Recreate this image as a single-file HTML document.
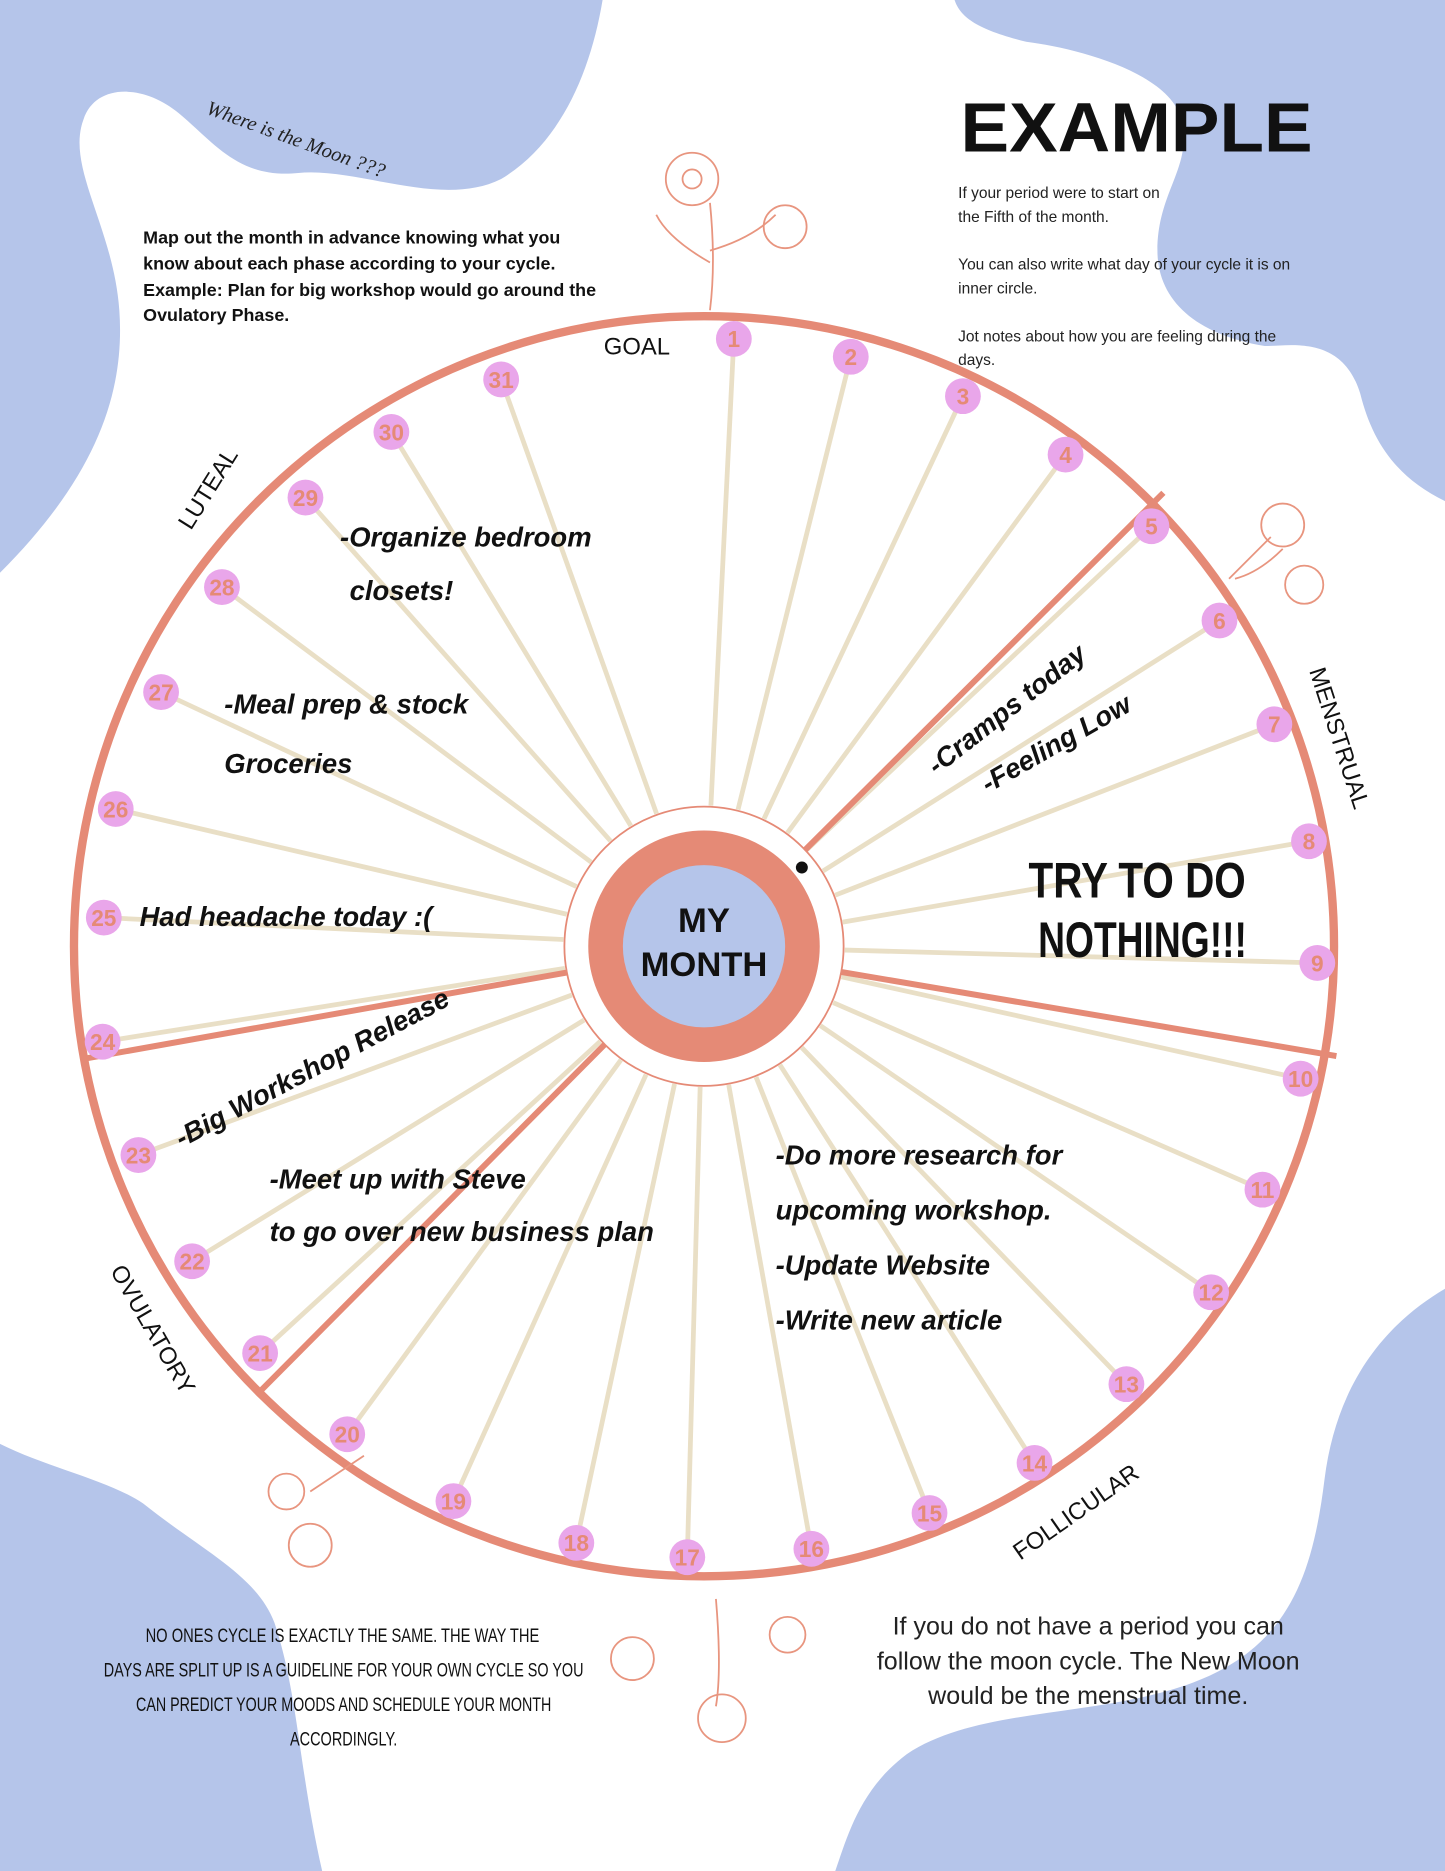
<!DOCTYPE html>
<html><head><meta charset="utf-8"><style>
html,body{margin:0;padding:0;background:#fff}
svg{display:block}
.hw{font-family:"Liberation Sans",sans-serif;font-weight:bold;font-style:italic;fill:#111}
.sans{font-family:"Liberation Sans",sans-serif}
</style></head><body>
<svg id="s" width="1445" height="1871" viewBox="0 0 1211 1568" preserveAspectRatio="none" xmlns="http://www.w3.org/2000/svg">
<rect width="1211" height="1568" fill="#fff"/>
<g fill="#b5c5ea">
<path d="M0 0 H505 C495 60 470 120 420 150 C370 175 300 140 250 145 C200 150 180 120 150 95 C120 70 80 70 70 100 C55 140 95 190 100 260 C105 330 80 400 0 480 Z"/>
<path d="M800 0 H1211 V420 C1170 400 1150 370 1140 330 C1125 280 1080 290 1060 290 C1000 280 970 250 970 210 C970 160 1000 140 990 100 C980 60 900 40 860 35 C820 25 805 15 800 0 Z"/>
<path d="M0 1210 C40 1230 90 1240 120 1260 C170 1300 215 1320 230 1360 C250 1420 250 1480 270 1568 H0 Z"/>
<path d="M1211 1080 C1160 1110 1120 1160 1110 1240 C1100 1320 1080 1380 1000 1410 C920 1440 820 1430 760 1470 C720 1500 710 1540 700 1568 H1211 Z"/>
</g>
<g id="spokes" stroke="#e9dfc6" stroke-width="4"></g>
<circle cx="590" cy="793" r="528" fill="none" stroke="#e58a76" stroke-width="7"/>
<g stroke="#e58a76" stroke-width="5">
<line x1="665" y1="722" x2="975" y2="413"/>
<line x1="690" y1="812" x2="1120" y2="885"/>
<line x1="492" y1="812" x2="72" y2="887"/>
<line x1="520" y1="862" x2="218" y2="1166"/>
</g>
<circle cx="590" cy="793" r="117" fill="#fff" stroke="#e58a76" stroke-width="1.5"/>
<circle cx="590" cy="793" r="97" fill="#e58a76"/>
<circle cx="590" cy="793" r="68" fill="#b5c5ea"/>
<text x="590" y="781" text-anchor="middle" class="sans" font-weight="bold" font-size="29" fill="#111">MY</text>
<text x="590" y="818" text-anchor="middle" class="sans" font-weight="bold" font-size="29" fill="#111">MONTH</text>
<circle cx="672" cy="727" r="5" fill="#111"/>
<g id="nums"></g>
<g class="sans" fill="#111" font-size="20">
<text x="506" y="297">GOAL</text>
<text transform="translate(160,445) rotate(-58)">LUTEAL</text>
<text transform="translate(1097,562) rotate(72)">MENSTRUAL</text>
<text transform="translate(855,1308) rotate(-35)">FOLLICULAR</text>
<text transform="translate(92,1065) rotate(60)">OVULATORY</text>
</g>
<text x="805" y="127" class="sans" font-weight="bold" font-size="58" fill="#111" textLength="295" lengthAdjust="spacingAndGlyphs">EXAMPLE</text>
<g class="sans" font-size="13" fill="#222">
<text x="803" y="166">If your period were to start on</text>
<text x="803" y="186">the Fifth of the month.</text>
<text x="803" y="226">You can also write what day of your cycle it is on</text>
<text x="803" y="246">inner circle.</text>
<text x="803" y="286">Jot notes about how you are feeling during the</text>
<text x="803" y="306">days.</text>
</g>
<g class="sans" font-size="15" font-weight="bold" fill="#111">
<text x="120" y="204">Map out the month in advance knowing what you</text>
<text x="120" y="226">know about each phase according to your cycle.</text>
<text x="120" y="248">Example: Plan for big workshop would go around the</text>
<text x="120" y="269">Ovulatory Phase.</text>
</g>
<text transform="translate(172,95) rotate(20)" font-family="Liberation Serif,serif" font-style="italic" font-size="17" fill="#222">Where is the Moon ???</text>
<g class="hw" font-size="23">
<text x="285" y="458">-Organize bedroom</text>
<text x="293" y="503">closets!</text>
<text x="188" y="598">-Meal prep &amp; stock</text>
<text x="188" y="648">Groceries</text>
<text x="117" y="776">Had headache today :(</text>
<text transform="translate(152,962) rotate(-28)">-Big Workshop Release</text>
<text x="226" y="996">-Meet up with Steve</text>
<text x="226" y="1040">to go over new business plan</text>
<text x="650" y="976">-Do more research for</text>
<text x="650" y="1022">upcoming workshop.</text>
<text x="650" y="1068">-Update Website</text>
<text x="650" y="1114">-Write new article</text>
<text transform="translate(785,650) rotate(-38)">-Cramps today</text>
<text transform="translate(828,665) rotate(-30)">-Feeling Low</text>
</g>
<g class="sans" font-weight="bold" font-size="42" fill="#111">
<text x="862" y="752" textLength="182" lengthAdjust="spacingAndGlyphs">TRY TO DO</text>
<text x="870" y="802" textLength="175" lengthAdjust="spacingAndGlyphs">NOTHING!!!</text>
</g>
<g class="sans" font-size="16" fill="#111" text-anchor="middle">
<text x="287" y="1376" textLength="330" lengthAdjust="spacingAndGlyphs">NO ONES CYCLE IS EXACTLY THE SAME. THE WAY THE</text>
<text x="288" y="1405" textLength="402" lengthAdjust="spacingAndGlyphs">DAYS ARE SPLIT UP IS A GUIDELINE FOR YOUR OWN CYCLE SO YOU</text>
<text x="288" y="1434" textLength="348" lengthAdjust="spacingAndGlyphs">CAN PREDICT YOUR MOODS AND SCHEDULE YOUR MONTH</text>
<text x="288" y="1463" textLength="90" lengthAdjust="spacingAndGlyphs">ACCORDINGLY.</text>
</g>
<g class="sans" font-size="21" fill="#222" text-anchor="middle">
<text x="912" y="1370">If you do not have a period  you can</text>
<text x="912" y="1399">follow the moon cycle. The New Moon</text>
<text x="912" y="1428">would be the menstrual time.</text>
</g>
<g fill="none" stroke="#e8957f" stroke-width="1.5">
<g transform="translate(580,150)"><circle r="22"/><circle r="8"/><path d="M15 20 Q20 70 15 110 M15 60 Q50 50 70 30 M15 70 Q-20 50 -30 30"/><circle cx="78" cy="40" r="18"/></g>
<g transform="translate(1075,440)"><circle r="18"/><circle cx="18" cy="50" r="16"/><path d="M-10 10 Q-30 30 -45 45 M0 20 Q-20 40 -40 45"/></g>
<g transform="translate(240,1250)"><circle r="15"/><circle cx="20" cy="45" r="18"/><path d="M20 0 Q50 -20 65 -30"/></g>
<g transform="translate(600,1400)"><circle cx="-70" cy="-10" r="18"/><circle cx="5" cy="40" r="20"/><circle cx="60" cy="-30" r="15"/><path d="M0 -60 Q5 0 0 30"/></g>
</g>
<script>
var cx=590,cy=793;
var P=[[615,284],[713,299],[807,332],[893,381],[965,441],[1022,520],[1068,607],[1097,705],[1104,807],[1090,904],[1058,997],[1015,1083],[944,1160],[867,1226],[779,1268],[680,1298],[576,1305],[483,1293],[380,1258],[291,1202],[218,1134],[161,1057],[116,968],[86,873],[87,769],[97,678],[135,580],[186,492],[256,417],[328,362],[420,318]];
var sp=document.getElementById('spokes'),nm=document.getElementById('nums'),NS="http://www.w3.org/2000/svg";
P.forEach(function(p,i){
 var dx=p[0]-cx,dy=p[1]-cy,d=Math.sqrt(dx*dx+dy*dy),ux=dx/d,uy=dy/d;
 var l=document.createElementNS(NS,'line');
 l.setAttribute('x1',cx+ux*118);l.setAttribute('y1',cy+uy*118);
 l.setAttribute('x2',cx+ux*(d-10));l.setAttribute('y2',cy+uy*(d-10));
 sp.appendChild(l);
 var c=document.createElementNS(NS,'circle');
 c.setAttribute('cx',p[0]);c.setAttribute('cy',p[1]);c.setAttribute('r',15);c.setAttribute('fill','#e9a6ea');
 nm.appendChild(c);
 var t=document.createElementNS(NS,'text');
 t.setAttribute('x',p[0]);t.setAttribute('y',p[1]+7);t.setAttribute('text-anchor','middle');
 t.setAttribute('font-family','Liberation Sans, sans-serif');t.setAttribute('font-weight','bold');t.setAttribute('font-size','19');t.setAttribute('fill','#e58a76');
 t.textContent=i+1;nm.appendChild(t);
});
</script>
</svg>
</body></html>
